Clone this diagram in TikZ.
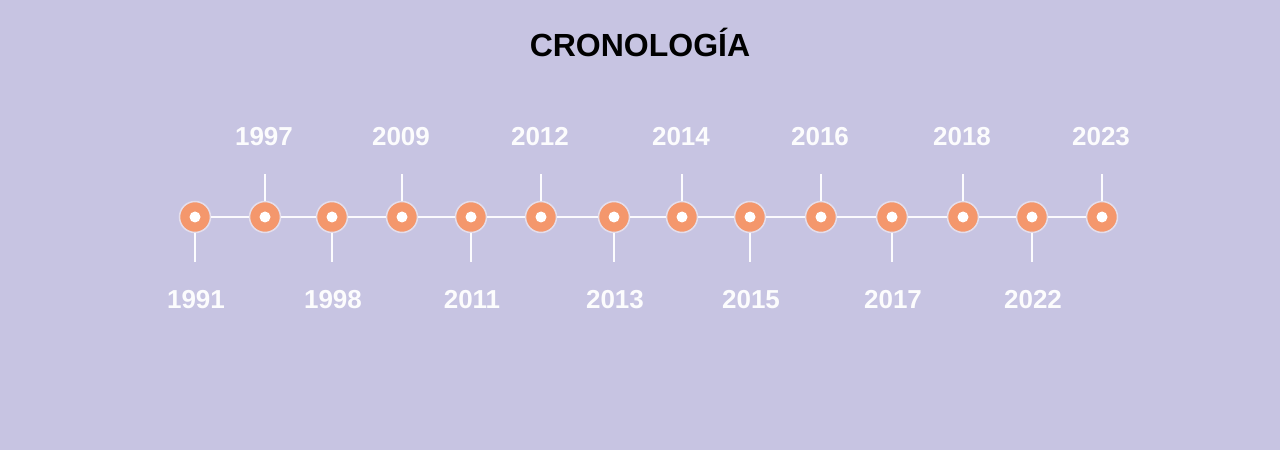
\documentclass[tikz,border=0pt]{standalone}
\usepackage{fontspec}
\setmainfont{Liberation Sans}
\usetikzlibrary{positioning}
\definecolor{cfondo}{HTML}{C7C4E2}
\definecolor{cpunto}{HTML}{F4976C}
\definecolor{caro}{HTML}{E4DEEC}
\tikzset{
  punto/.style={circle,fill=cpunto,draw=caro,line width=1.5pt,minimum size=31pt,inner sep=0pt},
  centro/.style={circle,fill=white,minimum size=11pt,inner sep=0pt},
  linea/.style={draw=white!92!cfondo,line width=1.5pt},
  marca/.style={draw=white!95!cfondo,line width=2pt},
  anio/.style={font=\bfseries\fontsize{26}{30}\selectfont,text=white!95!cfondo},
  tit/.style={font=\bfseries\fontsize{32}{36}\selectfont,text=black},
}

\begin{document}
\begin{tikzpicture}[x=1pt,y=1pt]

\fill[cfondo] (0,0) rectangle (1280,450);
\useasboundingbox (0,0) rectangle (1280,450);

\node[tit] (titulo) at (640,408) {CRONOLOGÍA};

% puntos de la linea de tiempo: x / anio / 1 arriba, -1 abajo
\foreach \x/\a/\s [count=\i] in {195/1991/-1, 265/1997/1, 332/1998/-1,
    402/2009/1, 471/2011/-1, 541/2012/1, 614/2013/-1,
    682/2014/1, 750/2015/-1, 821/2016/1, 892/2017/-1,
    963/2018/1, 1032/2022/-1, 1102/2023/1}{
  \node[punto] (p\i) at (\x,233) {};
  \node[centro] at (p\i) {};
  \ifnum\s=1
    \coordinate (t\i) at (\x,276);
    \draw[marca] (p\i.north) -- (t\i);
    \node[anio] (a\i) at (\x-1,313) {\a};
  \else
    \coordinate (t\i) at (\x,188);
    \draw[marca] (p\i.south) -- (t\i);
    \node[anio] (a\i) at (\x+1,150) {\a};
  \fi
}

\foreach \i in {1,...,13}{
  \pgfmathtruncatemacro\j{\i+1}
  \draw[linea] (p\i.east) -- (p\j.west);
}

\end{tikzpicture}
\end{document}
